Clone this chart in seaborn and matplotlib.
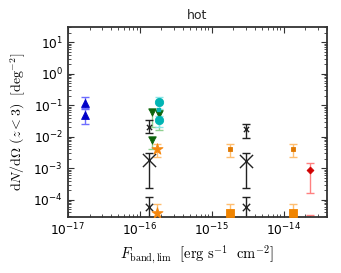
import numpy as np
import pandas as pd
import seaborn as sns
import matplotlib.pyplot as plt

# values (log-log)
blue_x = [1.72e-17, 1.72e-17]
blue_y = [0.115, 0.048]
blue_lo = [0.08, 0.025]
blue_hi = [0.18, 0.075]

cyan_x = [1.82e-16, 1.82e-16]
cyan_y = [0.122, 0.033]
cyan_lo = [0.075, 0.02]
cyan_hi = [0.18, 0.045]
cyansq_x = [1.82e-16]
cyansq_y = [0.069]

green_x = [1.47e-16, 1.82e-16, 1.47e-16]
green_y = [0.061, 0.052, 0.0078]
green_lo = [0.02, 0.016, 0.004]
green_hi = [0.075, 0.07, 0.0095]

cross_x = [1.36e-16, 3.03e-15]
cross_small_y = [0.020, 0.0173]
cross_small_lo = [0.0129, 0.0091]
cross_small_hi = [0.034, 0.025]
cross_big_y = [0.0018, 0.0017]
cross_big_lo = [2.3e-4, 2.3e-4]
cross_big_hi = [0.0031, 0.0031]
cross_low_y = [5.9e-5, 5.9e-5]
cross_low_lo = [1e-5, 1e-5]
cross_low_hi = [1.2e-4, 1.2e-4]

star_x = [1.76e-16]
star_y = [0.0039, 3.8e-5]
star_lo = [0.0022, 1e-5]
star_hi = [0.0057, 7.2e-5]

sq_x = [1.78e-15, 1.35e-14]
sq_small_y = [0.0039, 0.0039]
sq_small_lo = [0.0022, 0.0022]
sq_small_hi = [0.0057, 0.0057]
sq_big_y = [3.8e-5, 3.8e-5]
sq_big_lo = [1e-5, 1e-5]
sq_big_hi = [7.2e-5, 7.2e-5]

red_x = [2.3e-14, 2.3e-14]
red_y = [8.7e-4, 1e-5]
red_lo = [1.6e-4, 5e-6]
red_hi = [0.0015, 3.2e-5]

x_ticks = [1e-17, 1e-16, 1e-15, 1e-14]
y_ticks = [1e-4, 1e-3, 1e-2, 1e-1, 1e0, 1e1]

sns.set_style('ticks')
plt.rcParams['font.family'] = ['DejaVu Sans']

fig, ax = plt.subplots(figsize=(3.41, 2.73), dpi=100)
fig.subplots_adjust(left=0.199, right=0.959, bottom=0.205, top=0.901)
ax.set_xscale('log')
ax.set_yscale('log')


def draw(x, y, lo, hi, marker, s, color, ecolor, ax=ax, lw=1.0):
    x = np.asarray(x, float)
    y = np.asarray(y, float)
    if len(x) == 1 and len(y) > 1:
        x = np.repeat(x, len(y))
    yerr = [y - np.asarray(lo), np.asarray(hi) - y]
    ax.errorbar(x, y, yerr=yerr, fmt='none', ecolor=ecolor, elinewidth=1.0,
                capsize=3, capthick=1.0, zorder=2)
    df = pd.DataFrame({'x': x, 'y': y})
    if marker == 'x':
        sns.scatterplot(data=df, x='x', y='y', marker=marker, s=s, color=color,
                        linewidth=lw, ax=ax, zorder=3, legend=False)
    else:
        sns.scatterplot(data=df, x='x', y='y', marker=marker, s=s, color=color,
                        edgecolor=color, linewidth=0.6, ax=ax, zorder=3, legend=False)


draw(blue_x, blue_y, blue_lo, blue_hi, '^', 32, '#0000c8', '#6e6eff')
draw(green_x, green_y, green_lo, green_hi, 'v', 28, '#0c640c', '#8fd08f')
draw(cyan_x, cyan_y, cyan_lo, cyan_hi, 'o', 36, '#00b4b4', '#8ae6e6')
sns.scatterplot(x=cyansq_x, y=cyansq_y, marker='s', s=10, color='#00b4b4',
                edgecolor='#00b4b4', ax=ax, zorder=3, legend=False)
draw(cross_x, cross_small_y, cross_small_lo, cross_small_hi, 'x', 14, '#222222', '#222222')
draw(cross_x, cross_big_y, cross_big_lo, cross_big_hi, 'x', 90, '#222222', '#222222')
draw(cross_x, cross_low_y, cross_low_lo, cross_low_hi, 'x', 28, '#222222', '#222222')
draw(star_x, star_y, star_lo, star_hi, '*', 70, '#f5870f', '#ffbe70')
draw(sq_x, sq_small_y, sq_small_lo, sq_small_hi, 's', 10, '#e07800', '#ffbe70')
draw(sq_x, sq_big_y, sq_big_lo, sq_big_hi, 's', 30, '#f08400', '#ffbe70')
draw(red_x, red_y, red_lo, red_hi, 'D', 12, '#d00000', '#ff8080')

ax.set_xticks(x_ticks)
ax.set_yticks(y_ticks)
ax.set_xlim(1e-17, 4e-14)
ax.set_ylim(2.8e-5, 30)

for sp in ax.spines.values():
    sp.set_visible(True)
    sp.set_linewidth(1.3)
    sp.set_color('#333333')
ax.tick_params(which='both', direction='in', top=True, right=True, labelsize=8.8,
               color='#333333', labelcolor='black')
ax.tick_params(which='major', length=4, width=0.8)
ax.tick_params(which='minor', length=2, width=0.6)

ax.set_title('hot', fontsize=9)
ax.set_xlabel(r'$F_{\rm band,lim}\ \ [{\rm erg\ s^{-1}\ \ cm^{-2}}]$',
              fontsize=10.5, math_fontfamily='cm', color='black')
ax.set_ylabel(r'${\rm d}N/{\rm d}\Omega\ (z<3)\ \ [{\rm deg}^{-2}]$',
              fontsize=10, math_fontfamily='cm', color='black')

fig.savefig('out.png', dpi=100)
